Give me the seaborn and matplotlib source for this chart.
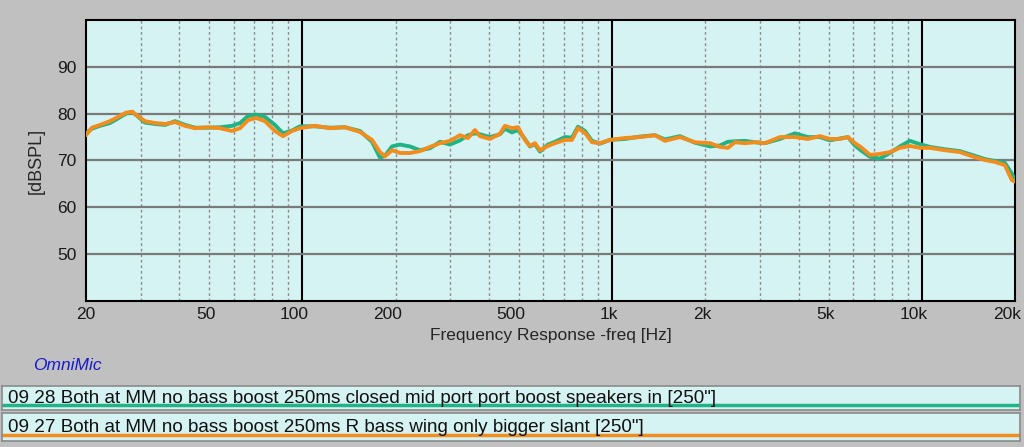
import numpy as np
import pandas as pd
import seaborn as sns
import matplotlib.pyplot as plt
from matplotlib.ticker import FixedLocator, NullFormatter
from matplotlib.transforms import ScaledTranslation

# frequency points [Hz]
freq = [20, 20.9, 22.2, 23.9, 25.4, 26.9, 28.2, 29.4, 31.0, 33.4, 36.0, 38.8,
        41.8, 45.0, 49.5, 54.2, 59.2, 62.9, 66.7, 70.8, 75.7, 81.5, 86.5, 92.5,
        98.2, 109.8, 122.7, 137.2, 153.4, 167.7, 178, 184.7, 194.6, 206.5,
        222.4, 239.6, 258.1, 278, 299.5, 322.6, 342.4, 360.6, 374.3, 403.2,
        434.3, 450.7, 474.8, 496.5, 523, 542.8, 563.4, 584.7, 620.6, 653.8,
        704.3, 741.9, 775.8, 817.3, 861, 913.9, 984.5, 1100, 1229, 1375, 1481,
        1656, 1851, 2069, 2229, 2366, 2493, 2686, 2893, 3116, 3483, 3894, 4290,
        4690, 5052, 5442, 5775, 6081, 6405, 6800, 7324, 7888, 8498, 9154, 9860,
        10620, 11876, 13280, 14849, 15993, 17226, 18554, 19545, 20000]

spl_0928 = [75.8, 76.8, 77.4, 78.0, 79.0, 80.0, 80.4, 79.4, 78.1, 77.8, 77.6, 78.4,
            77.6, 77.0, 77.0, 77.1, 77.4, 78.0, 79.5, 79.8, 79.3, 77.6, 75.8, 76.4,
            77.3, 77.3, 77.0, 77.1, 76.3, 74.0, 70.6, 71.0, 73.0, 73.4,
            73.0, 72.2, 72.6, 74.0, 73.4, 74.3, 75.4, 75.8, 75.6, 75.0,
            75.6, 76.8, 76.0, 76.5, 74.6, 73.0, 73.5, 71.9, 73.4, 74.0,
            75.0, 74.9, 77.2, 76.3, 74.2, 73.6, 74.4, 74.6, 75.1, 75.4, 74.5,
            75.2, 73.8, 73.0, 73.2, 74.0, 74.1, 74.2, 73.9, 73.7, 74.6, 75.8, 75.0,
            75.0, 74.3, 74.7, 75.0, 73.2, 72.0, 70.8, 70.4, 71.6, 73.0, 74.2, 73.5,
            72.9, 72.4, 72.0, 71.0, 70.3, 69.9, 69.5, 67.2, 65.8]

spl_0927 = [75.4, 77.0, 77.6, 78.4, 79.3, 80.2, 80.4, 79.5, 78.4, 78.0, 77.8, 78.2,
            77.4, 76.9, 77.1, 76.9, 76.3, 76.9, 78.6, 79.1, 78.4, 76.3, 75.2, 76.3,
            76.9, 77.4, 76.9, 77.1, 76.1, 74.4, 71.8, 70.9, 72.2, 71.6,
            71.6, 72.0, 72.9, 73.7, 74.2, 75.4, 74.8, 76.5, 75.2, 74.6,
            75.7, 77.4, 76.9, 77.1, 74.4, 73.1, 73.7, 72.2, 73.1, 73.7,
            74.4, 74.4, 76.9, 75.9, 73.9, 73.7, 74.4, 74.8, 75.0, 75.4, 74.2,
            75.0, 73.9, 73.7, 72.9, 72.7, 73.9, 73.7, 73.9, 73.7, 75.0, 75.0, 74.6,
            75.2, 74.6, 74.6, 75.0, 73.7, 72.7, 71.2, 71.4, 71.8, 72.7, 73.1, 72.7,
            72.7, 72.2, 71.8, 70.7, 70.1, 69.7, 69.0, 65.8, 65.5]

series_names = ['09 28 Both at MM no bass boost 250ms closed mid port port boost speakers in [250"]',
                '09 27 Both at MM no bass boost 250ms R bass wing only bigger slant [250"]']
colors = ['#1fb386', '#f28c1c']

xticks = [20, 50, 100, 200, 500, 1000, 2000, 5000, 10000, 20000]
xticklabels = ['20', '50', '100', '200', '500', '1k', '2k', '5k', '10k', '20k']
yticks = [50, 60, 70, 80, 90]

df = pd.concat([
    pd.DataFrame({'freq': freq, 'spl': spl_0928, 'trace': series_names[0]}),
    pd.DataFrame({'freq': freq, 'spl': spl_0927, 'trace': series_names[1]}),
])

sns.set_style('white')
plt.rcParams['font.family'] = ['Liberation Sans', 'DejaVu Sans']

panel_bg = '#d6f3f3'
fig = plt.figure(figsize=(10.24, 4.47), dpi=100, facecolor='#c0c0c0')
ax = fig.add_axes([86 / 1024, 1 - 301 / 447, 929 / 1024, 281 / 447])
ax.set_facecolor(panel_bg)

sns.lineplot(data=df, x='freq', y='spl', hue='trace', palette=colors,
             linewidth=2.8, legend=False, ax=ax, zorder=5)

ax.set_xscale('log')
ax.set_xlim(20, 20000)
ax.set_ylim(40, 100)

# grid: dotted at 2..9 multiples, solid black at decades
minor = [m * d for d in (10, 100, 1000, 10000) for m in range(2, 10)
         if 20 < m * d < 20000]
for f in minor:
    ax.axvline(f, color='#8c8c8c', lw=1, ls=(0, (2, 2)), zorder=1)
for f in (100, 1000, 10000):
    ax.axvline(f, color='black', lw=1.5, zorder=2)
for y in yticks:
    ax.axhline(y, color='#7a7a7a', lw=1.6, zorder=2)

ax.xaxis.set_major_locator(FixedLocator(xticks))
ax.xaxis.set_minor_formatter(NullFormatter())
ax.xaxis.set_minor_locator(FixedLocator([]))
ax.set_xticklabels(xticklabels)
ax.set_yticks(yticks)
ax.tick_params(axis='both', length=0, labelsize=12.5, colors='#1a1a1a')
ax.tick_params(axis='x', pad=4)
ax.tick_params(axis='y', pad=7)

# the program puts frequency labels slightly left of their grid line
for lab in ax.get_xticklabels()[1:]:
    lab.set_horizontalalignment('right')
    lab.set_transform(lab.get_transform() + ScaledTranslation(6 / 100, 0, fig.dpi_scale_trans))

ax.set_xlabel('Frequency Response -freq [Hz]', fontsize=12.5, labelpad=5)
ax.set_ylabel('[dBSPL]', fontsize=13, labelpad=9)
for s in ax.spines.values():
    s.set_color('black')
    s.set_linewidth(1.5)

fig.text(33 / 1024, 1 - 365 / 447, 'OmniMic', color='#1a1acc', style='italic',
         fontsize=12.5, va='center', ha='left')

# legend rows at the bottom
rows = [(1 - 410 / 447, 24 / 447, 0.2, 0.46), (1 - 441 / 447, 28 / 447, 0.22, 0.5)]
for (bottom, height, line_y, text_y), name, col in zip(rows, series_names, colors):
    lax = fig.add_axes([2 / 1024, bottom, 1018 / 1024, height])
    lax.set_facecolor(panel_bg)
    lax.set_xlim(0, 1)
    lax.set_ylim(0, 1)
    lax.set_xticks([])
    lax.set_yticks([])
    for s in lax.spines.values():
        s.set_color('#8a8a8a')
        s.set_linewidth(1.2)
    lax.plot([0, 1], [line_y, line_y], color=col, lw=2.5)
    lax.text(6 / 1018, text_y, name, fontsize=13.6, va='center', ha='left',
             color='#111111')

fig.savefig('out.png', dpi=100, facecolor=fig.get_facecolor())
